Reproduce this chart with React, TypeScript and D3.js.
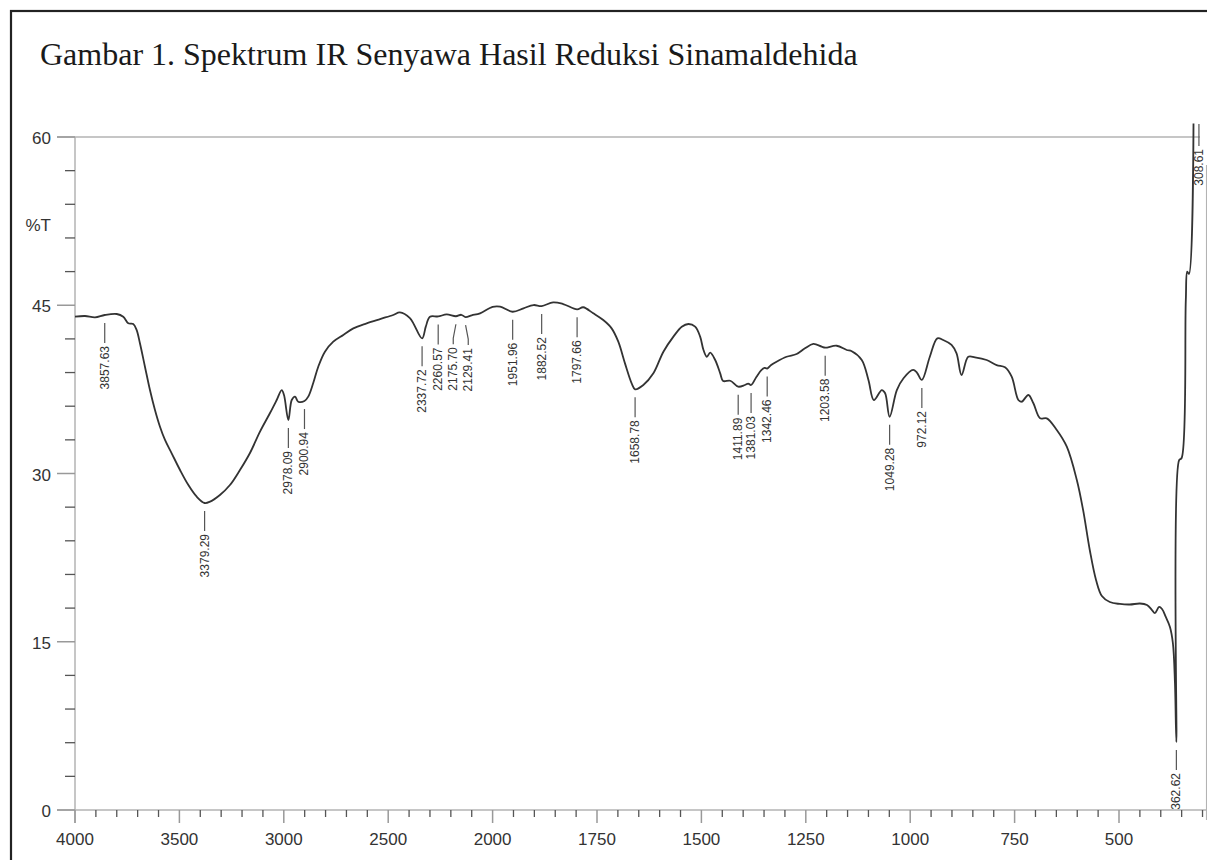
import React from 'react';
import * as d3 from 'd3';

// IR spectrum (wavenumber in cm-1, %T)
const wavenumber = [
  4000, 3952, 3904, 3857.63, 3800, 3769, 3745, 3721, 3705, 3689, 3665, 3641, 3617, 3593, 3569, 3537,
  3497, 3457, 3417, 3379.29, 3353, 3306, 3258, 3210, 3162, 3114, 3066, 3034, 3010, 2999, 2978.09,
  2962, 2946, 2931, 2900.94, 2883, 2859, 2835, 2803, 2763, 2715, 2667, 2603, 2539, 2476, 2444, 2396,
  2337.72, 2320, 2300, 2260.57, 2220, 2175.7, 2150, 2129.41, 2100, 2060, 2000, 1982, 1951.96, 1926,
  1902, 1882.52, 1855, 1831, 1797.66, 1783, 1759, 1735, 1715, 1699, 1683, 1667, 1658.78, 1639, 1615,
  1591, 1567, 1547, 1531, 1515, 1503, 1495, 1487, 1479, 1467, 1455, 1448, 1431, 1411.89, 1396, 1388,
  1381.03, 1368, 1356, 1349, 1342.46, 1333, 1320, 1296, 1272, 1252, 1232, 1212, 1203.58, 1176, 1152,
  1140, 1116, 1100, 1087, 1068, 1060, 1049.28, 1032, 1016, 993, 984, 972.12, 953, 935, 921, 901, 889,
  877, 861, 845, 817, 793, 773, 757, 741, 733, 717, 705, 689, 673, 649, 625, 601, 586, 570, 555, 541,
  522, 498, 474, 450, 433, 421, 414, 404, 397, 388, 378, 371, 366, 362.62, 356, 350, 340, 336.5,
  332.4, 321.6,
];
const transmittance = [
  43.98, 44.04, 43.92, 44.13, 44.22, 43.98, 43.39, 43.33, 42.8, 41.61, 39.52, 37.44, 35.66, 34.17, 32.99, 31.8,
  30.31, 28.97, 27.93, 27.37, 27.49, 28.08, 28.97, 30.31, 31.83, 33.73, 35.39, 36.55, 37.44, 36.99, 34.77,
  36.55, 36.85, 36.4, 36.46, 36.85, 38.07, 39.52, 40.86, 41.75, 42.35, 42.94, 43.39, 43.77, 44.13, 44.37, 43.86,
  42.05, 43.09, 43.98, 44.0, 44.18, 44.02, 44.15, 43.95, 44.1, 44.28, 44.85, 44.87, 44.42, 44.73,
  45.02, 44.93, 45.26, 45.11, 44.64, 44.82, 44.28, 43.68, 42.94, 41.75, 39.82, 38.04, 37.51, 37.89, 38.93,
  40.86, 42.2, 43.09, 43.33, 43.09, 42.2, 41.01, 40.41, 40.77, 40.12, 38.93, 38.25, 38.27, 37.74, 37.89, 38.02,
  37.89, 38.63, 39.23, 39.42, 39.36, 39.67, 39.97, 40.41, 40.65, 41.16, 41.55, 41.31, 41.22, 41.39, 41.01,
  40.9, 40.12, 38.34, 36.55, 37.44, 37.15, 35.06, 37.44, 38.49, 39.23, 39.0, 38.34, 40.41, 42.05, 41.9, 41.46, 40.71,
  38.78, 40.41, 40.36, 40.12, 39.67, 39.47, 38.63, 36.55, 36.4, 37.0, 36.26, 34.92, 34.92, 33.88, 32.39, 29.42, 26.75, 23.18, 20.51, 19.08,
  18.54, 18.37, 18.32, 18.41, 18.28, 17.83, 17.56, 18.1, 17.92, 17.21, 16.32, 14.89, 11.32, 6.06, 31.2, 31.38, 45.47, 47.99,
  47.79, 61.2,
];

const peakWn = [
  3857.63, 3379.29, 2978.09, 2900.94, 2337.72, 2260.57, 2175.7, 2129.41, 1951.96, 1882.52,
  1797.66, 1658.78, 1411.89, 1381.03, 1342.46, 1203.58, 1049.28, 972.12, 362.62, 308.61,
];
const peakText = [
  '3857.63', '3379.29', '2978.09', '2900.94', '2337.72', '2260.57', '2175.70', '2129.41', '1951.96', '1882.52',
  '1797.66', '1658.78', '1411.89', '1381.03', '1342.46', '1203.58', '1049.28', '972.12', '362.62', '308.61',
];

const xMajor = [4000, 3500, 3000, 2500, 2000, 1750, 1500, 1250, 1000, 750, 500];
const yMajor = [0, 15, 30, 45, 60];

const W = 1207;
const H = 860;
const sans = "Arial, 'Liberation Sans', Helvetica, sans-serif";

// below 2000 cm-1 the spectrum is drawn at twice the scale
const x = d3.scaleLinear().domain([4000, 2000, 290]).range([75, 492.6, 1206.7]);
const y = d3.scaleLinear().domain([0, 60]).range([810, 137]);

function tAt(wn: number) {
  for (let i = 1; i < wavenumber.length; i++) {
    const a = wavenumber[i - 1], b = wavenumber[i];
    if (wn <= a && wn >= b) {
      const f = (a - wn) / (a - b);
      return transmittance[i - 1] + f * (transmittance[i] - transmittance[i - 1]);
    }
  }
  return null;
}

export default function App() {
  const pts = wavenumber.map((w, i) => [x(w), y(transmittance[i])] as [number, number]);
  const line = d3.line().curve(d3.curveCatmullRom.alpha(0.5))(pts);

  const minorX = d3.range(4000, 2000, -100).concat(d3.range(2000, 299, -50))
    .filter((v) => xMajor.indexOf(v) < 0);
  const minorY = d3.range(0, 60, 3).filter((v) => v % 15 !== 0);

  // peak labels, crowded ones spread apart
  const labels = peakWn.map((w, i) => {
    const px = x(w);
    const t = tAt(w);
    let top, bot, textEnd;
    if (t === null) {
      top = 124; bot = 146; textEnd = 149;
    } else {
      const py = y(t);
      top = py + 8; bot = py + 28; textEnd = py + 31;
    }
    return { px, tx: px, top, bot, textEnd, text: peakText[i] };
  });
  let i = 0;
  while (i < labels.length) {
    let j = i;
    while (j + 1 < labels.length && labels[j + 1].px - labels[j].px < 11) j++;
    if (j > i) {
      const grp = labels.slice(i, j + 1);
      const mean = d3.mean(grp, (d) => d.px) as number;
      grp.forEach((d, k) => { d.tx = mean + (k - (grp.length - 1) / 2) * 15; });
    }
    i = j + 1;
  }

  return (
    <svg width={W} height={H} style={{ position: 'absolute', left: 0, top: 0, background: '#fff' }}>
      <rect x={11} y={11} width={1260} height={900} fill="none" stroke="#222" strokeWidth={2.2} />
      <text x={40} y={65} fontFamily="'Liberation Serif', 'Times New Roman', serif" fontSize={32} fill="#1a1a1a">
        Gambar 1. Spektrum IR Senyawa Hasil Reduksi Sinamaldehida
      </text>

      {/* frame */}
      <g stroke="#b3b3b3" strokeWidth={1.5} fill="none">
        <line x1={57} x2={1200} y1={y(60)} y2={y(60)} />
        <line x1={57} x2={x(290)} y1={y(0)} y2={y(0)} />
        <line x1={x(4000)} x2={x(4000)} y1={y(60)} y2={823} />
        <line x1={x(290)} x2={x(290)} y1={165} y2={820} />
      </g>

      {/* y ticks */}
      <g>
        {yMajor.map((v) => (
          <g key={v}>
            <line x1={57} x2={75} y1={y(v)} y2={y(v)} stroke="#999" strokeWidth={1.5} />
            <text x={51} y={y(v) + 7} textAnchor="end" fontFamily={sans} fontSize={17} fill="#333">{v}</text>
          </g>
        ))}
        {minorY.map((v) => (
          <line key={v} x1={65} x2={75} y1={y(v)} y2={y(v)} stroke="#555" strokeWidth={1.3} />
        ))}
        <text x={51} y={231} textAnchor="end" fontFamily={sans} fontSize={17} fill="#333">%T</text>
      </g>

      {/* x ticks */}
      <g>
        {xMajor.map((v) => (
          <g key={v}>
            <line x1={x(v)} x2={x(v)} y1={y(0)} y2={823} stroke="#999" strokeWidth={1.5} />
            <text x={x(v)} y={845} textAnchor="middle" fontFamily={sans} fontSize={17} fill="#333">{v}</text>
          </g>
        ))}
        {minorX.map((v) => (
          <line key={v} x1={x(v)} x2={x(v)} y1={y(0)} y2={817} stroke="#555" strokeWidth={1.3} />
        ))}
      </g>

      {/* spectrum */}
      <path d={line || ''} fill="none" stroke="#333" strokeWidth={1.8} strokeLinejoin="round" />

      {/* peak labels */}
      <g>
        {labels.map((d) => (
          <g key={d.text}>
            <path
              d={d.tx === d.px
                ? `M${d.px},${d.top}L${d.px},${d.bot}`
                : `M${d.px},${d.top}L${d.tx},${d.top + 14}L${d.tx},${d.bot}`}
              fill="none" stroke="#555" strokeWidth={1.2}
            />
            <text
              transform={`translate(${d.tx},${d.textEnd}) rotate(-90)`}
              textAnchor="end" dominantBaseline="central"
              fontFamily={sans} fontSize={12} fill="#333"
            >{d.text}</text>
          </g>
        ))}
      </g>
    </svg>
  );
}
